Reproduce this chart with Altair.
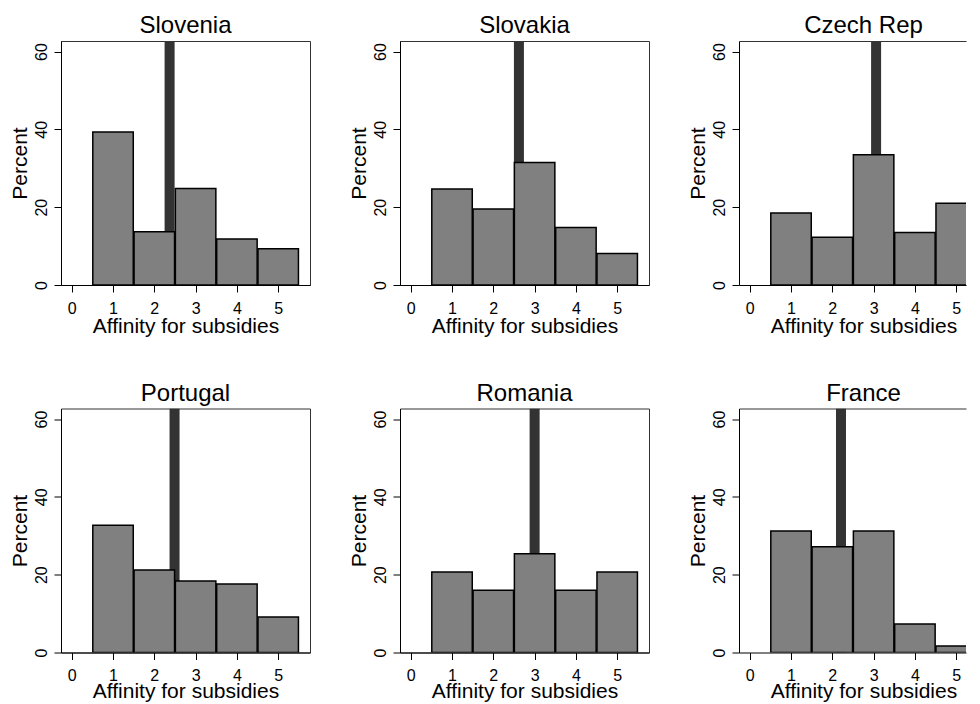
import altair as alt
import pandas as pd

countries = ["Slovenia", "Slovakia", "Czech Rep", "Portugal", "Romania", "France"]
categories = [1, 2, 3, 4, 5]
slovenia = [39.3, 13.7, 24.8, 11.8, 9.3]
slovakia = [24.7, 19.5, 31.5, 14.8, 8.1]
czech = [18.5, 12.3, 33.5, 13.5, 21.0]
portugal = [32.7, 21.2, 18.4, 17.6, 9.1]
romania = [20.7, 16.0, 25.4, 16.0, 20.7]
france = [31.2, 27.2, 31.2, 7.3, 1.7]
means = [2.37, 2.62, 3.06, 2.49, 3.00, 2.21]
x_ticks = [0, 1, 2, 3, 4, 5]
y_ticks = [0, 20, 40, 60]

FONT = "Liberation Sans"
X_MIN, X_MAX = -0.26, 5.77
Y_MAX = 62.7
W, H = 249, 244
CUT_W = 227


def panel(name, values, mean, cut=False, title_y=47):
    w = CUT_W if cut else W
    xmax = X_MIN + (X_MAX - X_MIN) * w / W
    xscale = alt.Scale(domain=[X_MIN, xmax], nice=False, zero=False)
    yscale = alt.Scale(domain=[0, Y_MAX], nice=False)
    bars_df = pd.DataFrame({"cat": categories, "pct": values})
    mean_df = pd.DataFrame({"mean": [mean]})

    xaxis = alt.Axis(values=x_ticks, format="d", title="Affinity for subsidies",
                     grid=False, tickSize=7, labelPadding=8, labelFontSize=16,
                     titleFontSize=21, titleY=title_y, titleX=W / 2,
                     titleBaseline="alphabetic", titleAlign="center",
                     labelFlush=False, labelOverlap=False)
    yaxis = alt.Axis(values=y_ticks, title="Percent", grid=False, tickSize=7,
                     labelPadding=8, labelAngle=270, labelAlign="center",
                     labelBaseline="alphabetic", labelFontSize=16,
                     titleFontSize=21, titleAngle=270, titleX=-35, titleY=H / 2,
                     titleBaseline="alphabetic", titleAlign="center",
                     labelFlush=False, labelOverlap=False)
    if cut:
        top_axis = alt.Axis(orient="top", labels=False, ticks=False, title=None,
                            grid=False, domain=True, domainColor="#333333")
    else:
        top_axis = None

    rule = alt.Chart(mean_df).mark_rule(color="#333333", strokeWidth=10, clip=True).encode(
        x=alt.X("mean:Q", scale=xscale, axis=top_axis)
    )
    bars = alt.Chart(bars_df).mark_rect(
        fill="#808080", stroke="black", strokeWidth=1.5, clip=True
    ).transform_calculate(
        x0="datum.cat - 0.49", x1="datum.cat + 0.49"
    ).encode(
        x=alt.X("x0:Q", scale=xscale, axis=xaxis),
        x2="x1:Q",
        y=alt.Y("pct:Q", scale=yscale, axis=yaxis),
        y2=alt.datum(0),
    )
    props = dict(width=w, height=H,
                 title=alt.Title(name, fontSize=24, font=FONT, fontWeight="normal",
                                 offset=-16, baseline="alphabetic", frame="group",
                                 anchor="middle", color="black", dx=(W - w) / 2))
    if cut:
        props["view"] = alt.ViewBackground(stroke="transparent")
    return alt.layer(rule, bars).resolve_axis(x="independent").properties(**props)


data = [slovenia, slovakia, czech, portugal, romania, france]
panels = [panel(countries[i], data[i], means[i], cut=(i % 3 == 2),
                title_y=(47 if i < 3 else 44.5)) for i in range(6)]

row1 = alt.hconcat(*panels[:3], spacing=36)
row2 = alt.hconcat(*panels[3:], spacing=36)
chart = alt.vconcat(row1, row2, spacing=43.5).properties(
    padding={"left": 0, "top": 5, "right": 0, "bottom": 0},
    background="white",
).configure_view(
    stroke="#333333", strokeWidth=1
).configure_axis(
    domainColor="black", tickColor="black", labelColor="black", titleColor="black",
    labelFont=FONT, titleFont=FONT, titleFontWeight="normal", domainWidth=1, tickWidth=1
)

chart.save("out.html", embed_options={"renderer": "svg", "actions": False})
